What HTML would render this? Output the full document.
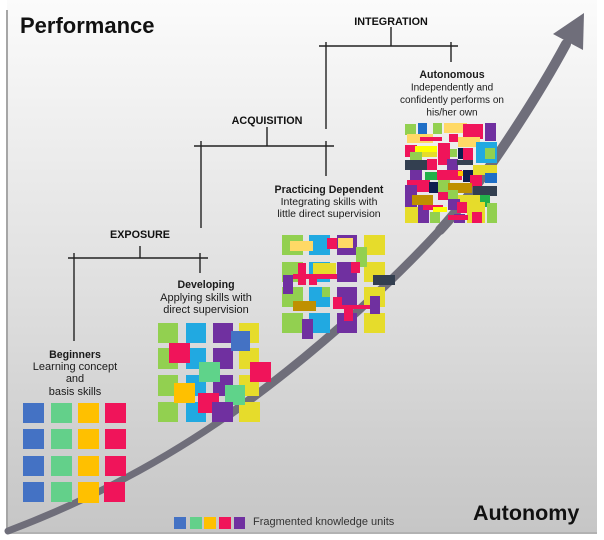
<!DOCTYPE html>
<html>
<head>
<meta charset="utf-8">
<style>
html,body{margin:0;padding:0;background:#fff;}
svg{display:block;}
text{font-family:"Liberation Sans",Arial,sans-serif;}
</style>
</head>
<body>
<svg width="604" height="540" viewBox="0 0 604 540" xmlns="http://www.w3.org/2000/svg">
<defs>
<linearGradient id="bg" x1="0" y1="0" x2="0" y2="1">
<stop offset="0" stop-color="#fbfbfb"/>
<stop offset="0.25" stop-color="#eeeeee"/>
<stop offset="0.55" stop-color="#dfdfdf"/>
<stop offset="0.9" stop-color="#cbcbcb"/>
<stop offset="1" stop-color="#c6c6c6"/>
</linearGradient>
</defs>
<rect x="0" y="0" width="604" height="540" fill="#ffffff"/>
<rect x="7" y="0" width="590" height="534" fill="url(#bg)"/>
<line x1="7" y1="10" x2="7" y2="534" stroke="#a6a6a6" stroke-width="2"/>
<line x1="6" y1="533" x2="597" y2="533" stroke="#b2b2b2" stroke-width="2"/>

<!-- Arrow -->
<g fill="none" stroke="#6f6e7a" stroke-linecap="round">
<path d="M 8 531 C 82 503, 156 466, 230 414" stroke-width="7"/>
<path d="M 230 414 C 300 365, 380 295, 440 230" stroke-width="8.5"/>
<path d="M 440 230 C 480 187, 538 96, 566 44" stroke-width="10"/>
</g>
<polygon points="584,13 553,34 583,50" fill="#6f6e7a"/>

<!-- Titles -->
<text x="20" y="33" font-size="22" font-weight="bold" fill="#111">Performance</text>
<text x="473" y="520" font-size="21.5" font-weight="bold" fill="#111">Autonomy</text>

<!-- Brackets -->
<g stroke="#222" stroke-width="1.4" fill="none">
<line x1="68" y1="258" x2="208" y2="258"/>
<line x1="74" y1="253" x2="74" y2="341"/>
<line x1="140" y1="246" x2="140" y2="258"/>
<line x1="200" y1="253" x2="200" y2="273"/>

<line x1="194" y1="146" x2="334" y2="146"/>
<line x1="201" y1="141" x2="201" y2="228"/>
<line x1="267" y1="127" x2="267" y2="146"/>
<line x1="326" y1="141" x2="326" y2="176"/>

<line x1="319" y1="46" x2="458" y2="46"/>
<line x1="326" y1="42" x2="326" y2="129"/>
<line x1="391" y1="27" x2="391" y2="46"/>
<line x1="451" y1="42" x2="451" y2="62"/>
</g>

<g font-size="10.8" font-weight="bold" fill="#111" text-anchor="middle">
<text x="140" y="238">EXPOSURE</text>
<text x="267" y="124">ACQUISITION</text>
<text x="391" y="25">INTEGRATION</text>
</g>

<!-- Stage labels -->
<g fill="#1a1a1a" text-anchor="middle">
<text x="75" y="358" font-size="10.6" font-weight="bold">Beginners</text>
<text x="75" y="370" font-size="11">Learning concept</text>
<text x="75" y="382" font-size="11">and</text>
<text x="75" y="395" font-size="11">basis skills</text>

<text x="206" y="288" font-size="10.6" font-weight="bold">Developing</text>
<text x="206" y="301" font-size="11">Applying skills with</text>
<text x="206" y="313" font-size="11">direct supervision</text>

<text x="329" y="193" font-size="10.6" font-weight="bold">Practicing Dependent</text>
<text x="329" y="205" font-size="10.5">Integrating skills with</text>
<text x="329" y="217" font-size="10.5">little direct supervision</text>

<text x="452" y="78" font-size="10.6" font-weight="bold">Autonomous</text>
<text x="452" y="90.5" font-size="10">Independently and</text>
<text x="452" y="103" font-size="10">confidently performs on</text>
<text x="452" y="115.5" font-size="10">his/her own</text>
</g>

<!-- Beginners cluster -->
<g>
<rect x="23" y="403" width="21" height="20" fill="#4472c4"/>
<rect x="23" y="429" width="21" height="20" fill="#4472c4"/>
<rect x="23" y="456" width="21" height="20" fill="#4472c4"/>
<rect x="23" y="482" width="21" height="20" fill="#4472c4"/>
<rect x="51" y="403" width="21" height="20" fill="#63d08a"/>
<rect x="51" y="429" width="21" height="20" fill="#63d08a"/>
<rect x="51" y="456" width="21" height="20" fill="#63d08a"/>
<rect x="51" y="482" width="21" height="20" fill="#63d08a"/>
<rect x="78" y="403" width="21" height="20" fill="#ffc000"/>
<rect x="78" y="429" width="21" height="20" fill="#ffc000"/>
<rect x="78" y="456" width="21" height="20" fill="#ffc000"/>
<rect x="78" y="482" width="21" height="21" fill="#ffc000"/>
<rect x="105" y="403" width="21" height="20" fill="#f0145a"/>
<rect x="105" y="429" width="21" height="20" fill="#f0145a"/>
<rect x="105" y="456" width="21" height="20" fill="#f0145a"/>
<rect x="104" y="482" width="21" height="20" fill="#f0145a"/>
</g>

<!-- Developing cluster -->
<g>
<rect x="158" y="323" width="20" height="20" fill="#92d050"/>
<rect x="158" y="348" width="20" height="21" fill="#92d050"/>
<rect x="158" y="375" width="20" height="21" fill="#92d050"/>
<rect x="158" y="402" width="20" height="20" fill="#92d050"/>
<rect x="186" y="323" width="20" height="20" fill="#21a9e1"/>
<rect x="186" y="348" width="20" height="21" fill="#21a9e1"/>
<rect x="186" y="375" width="20" height="21" fill="#21a9e1"/>
<rect x="186" y="402" width="20" height="20" fill="#21a9e1"/>
<rect x="213" y="323" width="20" height="20" fill="#7030a0"/>
<rect x="213" y="348" width="20" height="21" fill="#7030a0"/>
<rect x="213" y="375" width="20" height="21" fill="#7030a0"/>
<rect x="239" y="323" width="20" height="20" fill="#e6dc2b"/>
<rect x="239" y="348" width="20" height="21" fill="#e6dc2b"/>
<rect x="239" y="375" width="20" height="21" fill="#e6dc2b"/>
<rect x="239" y="402" width="21" height="20" fill="#e6dc2b"/>
<rect x="231" y="331" width="19" height="20" fill="#4472c4"/>
<rect x="169" y="343" width="21" height="20" fill="#f0145a"/>
<rect x="199" y="362" width="21" height="20" fill="#5fd38a"/>
<rect x="250" y="362" width="21" height="20" fill="#f0145a"/>
<rect x="174" y="383" width="21" height="20" fill="#ffc000"/>
<rect x="225" y="385" width="20" height="20" fill="#5fd38a"/>
<rect x="198" y="393" width="21" height="20" fill="#f0145a"/>
<rect x="212" y="402" width="21" height="20" fill="#7030a0"/>
</g>

<!-- Practicing Dependent cluster -->
<g>
<rect x="282" y="235" width="21" height="20" fill="#92d050"/>
<rect x="282" y="262" width="21" height="20" fill="#92d050"/>
<rect x="282" y="287" width="21" height="20" fill="#92d050"/>
<rect x="282" y="313" width="21" height="20" fill="#92d050"/>
<rect x="309" y="235" width="21" height="20" fill="#21a9e1"/>
<rect x="309" y="262" width="21" height="20" fill="#21a9e1"/>
<rect x="309" y="287" width="21" height="20" fill="#21a9e1"/>
<rect x="309" y="313" width="21" height="20" fill="#21a9e1"/>
<rect x="337" y="235" width="20" height="20" fill="#7030a0"/>
<rect x="337" y="262" width="20" height="20" fill="#7030a0"/>
<rect x="337" y="287" width="20" height="20" fill="#7030a0"/>
<rect x="337" y="313" width="20" height="20" fill="#7030a0"/>
<rect x="364" y="235" width="21" height="20" fill="#e6dc2b"/>
<rect x="364" y="262" width="21" height="20" fill="#e6dc2b"/>
<rect x="364" y="287" width="21" height="20" fill="#e6dc2b"/>
<rect x="364" y="313" width="21" height="20" fill="#e6dc2b"/>
<rect x="290" y="241" width="23" height="10" fill="#ffd966"/>
<rect x="327" y="238" width="10" height="11" fill="#f0145a"/>
<rect x="338" y="238" width="15" height="10" fill="#ffd966"/>
<rect x="356" y="247" width="11" height="20" fill="#92d050"/>
<rect x="313" y="263" width="23" height="11" fill="#e6dc2b"/>
<rect x="298" y="263" width="8" height="22" fill="#f0145a"/>
<rect x="293" y="274" width="44" height="5" fill="#f0145a"/>
<rect x="309" y="275" width="8" height="10" fill="#f0145a"/>
<rect x="351" y="262" width="9" height="11" fill="#f0145a"/>
<rect x="283" y="275" width="10" height="19" fill="#7030a0"/>
<rect x="373" y="275" width="22" height="10" fill="#333f50"/>
<rect x="322" y="287" width="8" height="10" fill="#92d050"/>
<rect x="293" y="301" width="23" height="10" fill="#bf9000"/>
<rect x="333" y="297" width="9" height="12" fill="#f0145a"/>
<rect x="333" y="305" width="44" height="4" fill="#f0145a"/>
<rect x="344" y="309" width="9" height="12" fill="#f0145a"/>
<rect x="370" y="296" width="10" height="18" fill="#7030a0"/>
<rect x="302" y="319" width="11" height="20" fill="#7030a0"/>
</g>

<!-- Autonomous cluster -->
<g>
<rect x="405" y="124" width="11" height="11" fill="#92d050"/>
<rect x="418" y="123" width="9" height="11" fill="#1f6fc6"/>
<rect x="433" y="123" width="9" height="11" fill="#92d050"/>
<rect x="444" y="123" width="23" height="10" fill="#ffd966"/>
<rect x="463" y="124" width="20" height="15" fill="#f0145a"/>
<rect x="485" y="123" width="11" height="18" fill="#7030a0"/>
<rect x="407" y="134" width="26" height="9" fill="#ffd966"/>
<rect x="420" y="137" width="22" height="4" fill="#f0145a"/>
<rect x="449" y="134" width="9" height="8" fill="#f0145a"/>
<rect x="458" y="137" width="22" height="10" fill="#ffd966"/>
<rect x="405" y="145" width="12" height="12" fill="#f0145a"/>
<rect x="415" y="146" width="22" height="6" fill="#ffff00"/>
<rect x="422" y="152" width="15" height="5" fill="#e6dc2b"/>
<rect x="410" y="152" width="12" height="11" fill="#92d050"/>
<rect x="438" y="143" width="12" height="22" fill="#f0145a"/>
<rect x="450" y="149" width="7" height="8" fill="#92d050"/>
<rect x="458" y="148" width="5" height="11" fill="#0e1e50"/>
<rect x="463" y="148" width="10" height="12" fill="#f0145a"/>
<rect x="476" y="142" width="21" height="21" fill="#21a9e1"/>
<rect x="485" y="148" width="10" height="11" fill="#92d050"/>
<rect x="405" y="160" width="22" height="10" fill="#333f50"/>
<rect x="427" y="159" width="10" height="11" fill="#f0145a"/>
<rect x="447" y="159" width="11" height="11" fill="#7030a0"/>
<rect x="457" y="160" width="16" height="5" fill="#333f50"/>
<rect x="410" y="170" width="12" height="12" fill="#7030a0"/>
<rect x="425" y="172" width="12" height="8" fill="#22b04a"/>
<rect x="437" y="170" width="25" height="10" fill="#f0145a"/>
<rect x="458" y="171" width="6" height="5" fill="#ffc000"/>
<rect x="463" y="170" width="10" height="12" fill="#0e1e50"/>
<rect x="473" y="165" width="24" height="10" fill="#e6dc2b"/>
<rect x="470" y="175" width="12" height="12" fill="#f0145a"/>
<rect x="485" y="173" width="12" height="10" fill="#1f6fc6"/>
<rect x="407" y="180" width="23" height="12" fill="#f0145a"/>
<rect x="429" y="182" width="9" height="11" fill="#0e1e50"/>
<rect x="438" y="180" width="12" height="12" fill="#92d050"/>
<rect x="448" y="183" width="24" height="10" fill="#bf9000"/>
<rect x="405" y="185" width="12" height="22" fill="#7030a0"/>
<rect x="473" y="186" width="24" height="10" fill="#333f50"/>
<rect x="438" y="192" width="10" height="8" fill="#f0145a"/>
<rect x="448" y="190" width="10" height="10" fill="#92d050"/>
<rect x="412" y="195" width="21" height="10" fill="#bf9000"/>
<rect x="458" y="195" width="24" height="8" fill="#e6dc2b"/>
<rect x="480" y="195" width="10" height="12" fill="#22b04a"/>
<rect x="448" y="199" width="12" height="11" fill="#7030a0"/>
<rect x="405" y="207" width="13" height="16" fill="#e6dc2b"/>
<rect x="418" y="205" width="11" height="18" fill="#7030a0"/>
<rect x="423" y="205" width="20" height="5" fill="#f0145a"/>
<rect x="433" y="207" width="14" height="5" fill="#ffff00"/>
<rect x="457" y="202" width="13" height="11" fill="#f0145a"/>
<rect x="467" y="202" width="18" height="21" fill="#e6dc2b"/>
<rect x="487" y="203" width="10" height="20" fill="#92d050"/>
<rect x="430" y="212" width="10" height="11" fill="#92d050"/>
<rect x="454" y="214" width="11" height="9" fill="#7030a0"/>
<rect x="448" y="215" width="20" height="5" fill="#f0145a"/>
<rect x="472" y="212" width="10" height="11" fill="#f0145a"/>
</g>

<!-- Legend -->
<rect x="174" y="517" width="12" height="12" fill="#4472c4"/>
<rect x="190" y="517" width="12" height="12" fill="#63d08a"/>
<rect x="204" y="517" width="12" height="12" fill="#ffc000"/>
<rect x="219" y="517" width="12" height="12" fill="#f0145a"/>
<rect x="234" y="517" width="11" height="12" fill="#7030a0"/>
<text x="253" y="525" font-size="11" fill="#333">Fragmented knowledge units</text>
</svg>
</body>
</html>
